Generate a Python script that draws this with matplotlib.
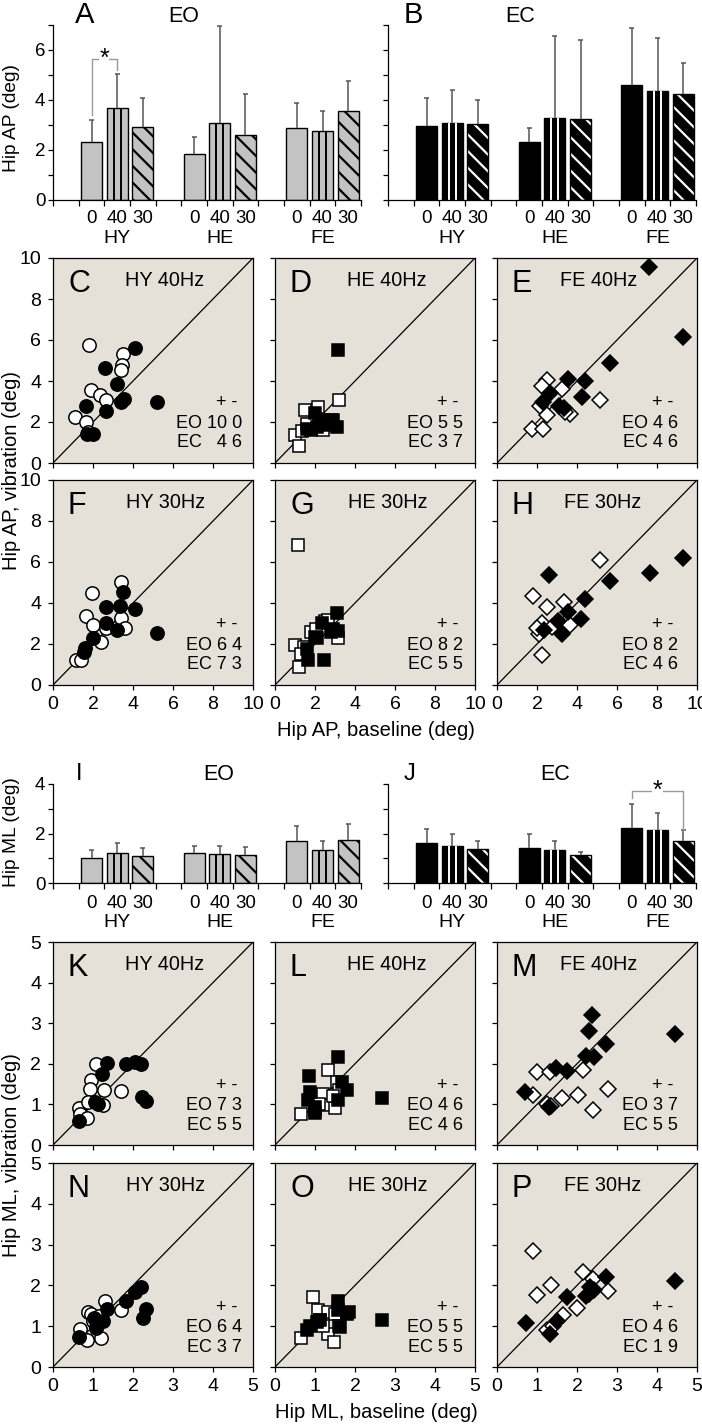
import matplotlib.pyplot as plt

plt.rcParams['font.family'] = ['Liberation Sans', 'DejaVu Sans']
plt.rcParams['font.size'] = 13
plt.rcParams['hatch.linewidth'] = 1.6
plt.rcParams['axes.linewidth'] = 0.9

# bar order: HY 0/40/30, HE 0/40/30, FE 0/40/30
cond_labels = ['0', '40', '30']
group_names = ['HY', 'HE', 'FE']
ap_eo_mean = [2.33, 3.68, 2.92, 1.83, 3.10, 2.60, 2.90, 2.76, 3.55]
ap_eo_sd = [0.87, 1.35, 1.18, 0.68, 3.85, 1.63, 1.00, 0.81, 1.23]
ap_ec_mean = [2.98, 3.10, 3.05, 2.34, 3.30, 3.24, 4.59, 4.35, 4.23]
ap_ec_sd = [1.11, 1.31, 0.95, 0.53, 3.25, 3.18, 2.29, 2.13, 1.27]
ml_eo_mean = [1.03, 1.20, 1.09, 1.20, 1.17, 1.12, 1.71, 1.33, 1.73]
ml_eo_sd = [0.32, 0.40, 0.31, 0.29, 0.32, 0.32, 0.61, 0.38, 0.64]
ml_ec_mean = [1.60, 1.48, 1.36, 1.41, 1.32, 1.13, 2.21, 2.16, 1.68]
ml_ec_sd = [0.60, 0.52, 0.35, 0.59, 0.39, 0.14, 0.99, 0.68, 0.45]

# scatter: (baseline, vibration) pairs
ap_hy40_eo = [(1.8, 5.76), (3.5, 5.33), (3.45, 4.8), (3.42, 4.52), (1.92, 3.58), (2.37, 3.32),
              (2.63, 3.09), (1.12, 2.24), (1.67, 2.0), (1.75, 1.5)]
ap_hy40_ec = [(4.08, 5.61), (2.58, 4.65), (3.2, 3.85), (3.42, 3.0), (5.2, 3.0), (1.63, 2.76),
              (2.67, 2.52), (1.7, 1.41), (2.0, 1.41), (3.55, 3.1)]
ap_he40_eo = [(1.0, 1.35), (1.2, 0.85), (1.5, 2.6), (2.15, 2.75), (3.2, 3.05), (1.35, 1.55),
              (2.4, 1.6), (2.0, 1.9), (1.6, 1.9), (2.8, 2.1)]
ap_he40_ec = [(3.17, 5.53), (2.0, 2.45), (1.6, 1.65), (2.25, 2.1), (2.9, 2.1), (3.1, 1.75),
              (2.75, 1.85), (1.8, 1.6), (2.5, 1.9), (2.1, 1.75)]
ap_fe40_eo = [(2.5, 4.07), (2.25, 3.74), (3.25, 3.61), (5.17, 3.06), (2.13, 2.8), (2.5, 2.36),
              (3.67, 2.41), (1.75, 1.67), (2.28, 1.67), (3.4, 2.5)]
ap_fe40_ec = [(7.62, 9.56), (9.28, 6.15), (5.67, 4.88), (3.55, 4.1), (4.42, 3.98), (4.25, 3.2),
              (2.63, 3.41), (2.3, 2.98), (3.08, 2.76), (3.33, 2.68)]
ap_hy30_eo = [(3.42, 5.0), (1.97, 4.5), (1.67, 3.35), (2.0, 2.93), (2.63, 2.8), (1.17, 1.22),
              (2.42, 2.11), (3.42, 3.25), (3.58, 2.8), (1.42, 1.22)]
ap_hy30_ec = [(3.5, 4.52), (2.63, 3.79), (3.37, 3.85), (2.67, 3.0), (2.0, 2.28), (1.6, 1.8),
              (1.55, 1.6), (4.08, 3.71), (5.2, 2.52), (3.2, 2.68)]
ap_he30_eo = [(1.13, 6.83), (1.0, 1.95), (1.2, 0.89), (3.17, 2.28), (1.45, 1.85), (1.8, 2.6),
              (2.05, 2.75), (2.5, 3.1), (2.65, 3.15), (1.3, 1.5)]
ap_he30_ec = [(3.08, 3.5), (2.33, 3.0), (2.0, 2.36), (1.6, 1.75), (2.1, 2.3), (3.17, 2.64),
              (1.67, 1.22), (2.45, 1.22), (2.8, 2.6), (2.9, 2.75)]
ap_fe30_eo = [(5.17, 6.1), (1.8, 4.36), (2.5, 3.8), (3.33, 4.07), (2.25, 3.01), (2.08, 2.47),
              (2.75, 2.85), (2.0, 2.8), (3.67, 2.93), (2.25, 1.46)]
ap_fe30_ec = [(9.28, 6.18), (7.63, 5.45), (2.62, 5.37), (5.67, 5.09), (4.42, 4.18), (3.55, 3.58),
              (4.22, 3.22), (3.05, 3.12), (2.33, 2.68), (3.25, 2.49)]

ml_hy40_eo = [(1.08, 2.0), (0.96, 1.6), (0.93, 1.38), (1.27, 1.35), (0.64, 0.9), (0.67, 0.77),
              (0.88, 1.06), (1.71, 1.33), (0.85, 0.66), (1.25, 0.98)]
ml_hy40_ec = [(1.35, 2.03), (1.23, 1.75), (1.83, 2.0), (2.04, 2.05), (2.21, 2.0), (2.23, 1.18),
              (2.32, 1.08), (1.04, 1.05), (1.13, 1.0), (0.64, 0.6)]
ml_he40_eo = [(1.33, 1.84), (0.65, 0.76), (1.21, 1.25), (1.54, 1.55), (1.33, 0.98), (1.5, 0.9),
              (1.0, 0.85), (1.1, 1.0), (1.6, 1.35), (1.45, 1.2)]
ml_he40_ec = [(1.57, 2.17), (0.86, 1.7), (0.88, 1.31), (0.83, 1.1), (1.0, 0.94), (1.0, 0.78),
              (1.67, 1.56), (1.79, 1.35), (1.58, 1.1), (2.68, 1.15)]
ml_fe40_eo = [(1.0, 1.8), (1.33, 1.8), (0.9, 1.23), (2.14, 1.84), (1.25, 1.02), (1.62, 1.15),
              (2.02, 1.23), (2.78, 1.38), (2.39, 0.86), (1.35, 0.95)]
ml_fe40_ec = [(2.38, 3.2), (2.31, 2.8), (2.73, 2.48), (2.23, 2.2), (2.42, 2.17), (1.48, 1.89),
              (1.75, 1.82), (4.46, 2.73), (0.71, 1.31), (1.31, 0.93)]
ml_hy30_eo = [(1.29, 1.62), (0.88, 1.35), (0.96, 1.31), (0.67, 0.94), (1.0, 1.12), (1.15, 1.25),
              (1.71, 1.39), (0.85, 0.66), (1.21, 0.72), (1.08, 0.95)]
ml_hy30_ec = [(2.21, 1.97), (2.04, 1.84), (1.83, 1.62), (1.35, 1.43), (2.33, 1.41), (2.25, 1.19),
              (1.02, 1.19), (1.25, 1.13), (1.08, 0.98), (0.64, 0.74)]
ml_he30_eo = [(0.96, 1.72), (1.08, 1.39), (0.65, 0.72), (1.32, 1.35), (1.12, 1.15), (1.33, 0.82),
              (1.48, 0.61), (1.5, 1.3), (1.6, 1.0), (1.2, 1.0)]
ml_he30_ec = [(0.88, 1.0), (0.79, 0.9), (1.05, 1.1), (1.12, 1.15), (1.58, 1.62), (1.58, 1.39),
              (1.79, 1.31), (1.62, 0.98), (2.68, 1.15), (1.85, 1.35)]
ml_fe30_eo = [(0.9, 2.85), (2.14, 2.32), (1.36, 2.01), (1.0, 1.76), (2.39, 2.15), (2.78, 1.87),
              (2.0, 1.45), (1.65, 1.27), (1.25, 0.9), (1.4, 1.0)]
ml_fe30_ec = [(4.46, 2.11), (2.73, 2.2), (2.32, 1.97), (2.23, 1.74), (2.42, 1.89), (1.75, 1.72),
              (1.5, 1.13), (1.33, 0.82), (0.73, 1.08), (2.3, 1.8)]

# sign counts (+ -) printed in each panel
stats_ap = [('10 0', '  4 6'), ('5 5', '3 7'), ('4 6', '4 6'),
            ('6 4', '7 3'), ('8 2', '5 5'), ('8 2', '4 6')]
stats_ml = [('7 3', '5 5'), ('4 6', '4 6'), ('3 7', '5 5'),
            ('6 4', '3 7'), ('5 5', '5 5'), ('4 6', '1 9')]

W, H = 702, 1425
fig = plt.figure(figsize=(W / 100, H / 100), dpi=100)


def box(l, t, r, b):
    return [l / W, 1 - b / H, (r - l) / W, (b - t) / H]


def ftext(x, y, s, **kw):
    fig.text(x / W, 1 - y / H, s, ha='center', va='center', **kw)


def bar_panel(rect, means, sds, dark, ymax, labelled, pad, gpad):
    ax = fig.add_axes(rect)
    face = 'black' if dark else '#c3c3c3'
    ink = 'white' if dark else 'black'
    xs = [4 * g + 1.5 + k for g in range(3) for k in range(3)]
    wd = 0.82
    for i, (x, m, s) in enumerate(zip(xs, means, sds)):
        if i % 3 == 2:
            ax.bar(x, m, wd, color=face, edgecolor=ink, hatch='\\\\', lw=0)
        else:
            ax.bar(x, m, wd, color=face, lw=0)
        if i % 3 == 1:
            ax.vlines([x - wd / 6, x + wd / 6], 0, m, color=ink, lw=1.4)
        ax.bar(x, m, wd, fill=False, edgecolor='black', lw=1)
        ax.vlines(x, m, m + s, color='#555555', lw=1.1, clip_on=False)
        ax.hlines(m + s, x - 0.1, x + 0.1, color='#555555', lw=1.1, clip_on=False)
    ax.set_xlim(0, 12)
    ax.set_ylim(0, ymax)
    ax.spines[['top', 'right']].set_visible(False)
    ax.set_xticks(range(13))
    ax.set_xticklabels([])
    ax.set_xticks(xs, cond_labels * 3, minor=True)
    ax.tick_params(axis='x', which='major', direction='out', length=4.5, width=0.9)
    ax.tick_params(axis='x', which='minor', length=0, pad=pad, labelsize=13.5)
    ax.set_yticks(range(ymax + 1))
    if labelled:
        ax.set_yticklabels([str(v) if v % 2 == 0 else '' for v in range(ymax + 1)])
    else:
        ax.set_yticklabels([])
    ax.tick_params(axis='y', direction='out', length=3.5, width=0.9, pad=2, labelsize=13.5)
    for g, name in enumerate(group_names):
        ax.annotate(name, xy=(4 * g + 2.5, 0), xycoords=('data', 'axes fraction'),
                    xytext=(0, -gpad), textcoords='offset points', ha='center', va='center',
                    fontsize=14)
    return ax


def bracket(ax, x0, x1, top, bot0, bot1):
    ax.plot([x0, x0, x1, x1], [bot0, top, top, bot1], color='#999999', lw=1, clip_on=False)
    ax.text((x0 + x1) / 2, top, '*', fontsize=18, ha='center', va='center',
            bbox=dict(fc='white', ec='none', pad=0.2))


def scatter_panel(rect, eo, ec, marker, ms, lim, step, letter, title, stats,
                  bottom, left, tx, sx):
    ax = fig.add_axes(rect, facecolor='#e5e1d9')
    ax.plot([0, lim], [0, lim], color='black', lw=0.9)
    for pts, fc in ((eo, 'white'), (ec, 'black')):
        x, y = zip(*pts)
        ax.plot(x, y, ls='none', marker=marker, ms=ms, mfc=fc, mec='black', mew=1.1,
                clip_on=False)
    ax.set_xlim(0, lim)
    ax.set_ylim(0, lim)
    ticks = list(range(0, lim + 1, step))
    ax.set_xticks(ticks)
    ax.set_yticks(ticks)
    if not bottom:
        ax.set_xticklabels([])
    if not left:
        ax.set_yticklabels([])
    ax.tick_params(axis='x', direction='out', length=3.5, width=0.9, pad=4.5, labelsize=14)
    ax.tick_params(axis='y', direction='out', length=3.5, width=0.9, pad=5, labelsize=14)
    ax.text(0.075, 0.873, letter, transform=ax.transAxes, fontsize=22, ha='left', va='center')
    ax.text(tx, 0.89, title, transform=ax.transAxes, fontsize=14.3, ha='center', va='center')
    ax.text(sx - 0.025, 0.293, '+ -', transform=ax.transAxes, ha='right', va='center')
    ax.text(sx, 0.195, 'EO ' + stats[0], transform=ax.transAxes, ha='right', va='center')
    ax.text(sx, 0.098, 'EC ' + stats[1], transform=ax.transAxes, ha='right', va='center')
    return ax


# --- top bars (A, B)
axA = bar_panel(box(53, 25, 361, 200), ap_eo_mean, ap_eo_sd, False, 7, True, 7.5, 28)
bracket(axA, 1.5, 2.5, 5.63, 3.42, 5.2)
axB = bar_panel(box(388, 25, 696, 200), ap_ec_mean, ap_ec_sd, True, 7, False, 7.5, 28)
ftext(85, 15, 'A', fontsize=21)
ftext(184, 17, 'EO', fontsize=15.5)
ftext(413, 15, 'B', fontsize=21)
ftext(520, 17, 'EC', fontsize=15.5)
ftext(12, 118, 'Hip AP (deg)', rotation=90, fontsize=13.8)

# --- AP scatter (C-H)
cols = [(53, 253), (275, 475), (497, 697)]
ap_sets = [(ap_hy40_eo, ap_hy40_ec, 'o', 9.6, 'C', 'HY 40Hz'),
           (ap_he40_eo, ap_he40_ec, 's', 8.3, 'D', 'HE 40Hz'),
           (ap_fe40_eo, ap_fe40_ec, 'D', 7.9, 'E', 'FE 40Hz'),
           (ap_hy30_eo, ap_hy30_ec, 'o', 9.6, 'F', 'HY 30Hz'),
           (ap_he30_eo, ap_he30_ec, 's', 8.3, 'G', 'HE 30Hz'),
           (ap_fe30_eo, ap_fe30_ec, 'D', 7.9, 'H', 'FE 30Hz')]
ap_rows = [(258, 463), (480, 685)]
title_x = [0.56, 0.56, 0.51, 0.565, 0.565, 0.53]
stat_x = [0.945, 0.94, 0.905, 0.945, 0.94, 0.905]
for i, (eo, ec, mk, ms, let, ttl) in enumerate(ap_sets):
    r, c = divmod(i, 3)
    scatter_panel(box(cols[c][0], ap_rows[r][0], cols[c][1], ap_rows[r][1]), eo, ec, mk, ms,
                  10, 2, let, ttl, stats_ap[i], r == 1, c == 0, title_x[i], stat_x[i])
ftext(12, 471, 'Hip AP, vibration (deg)', rotation=90, fontsize=14.5)
ftext(376, 730, 'Hip AP, baseline (deg)', fontsize=14.5)

# --- ML bars (I, J)
axI = bar_panel(box(53, 784, 361, 883), ml_eo_mean, ml_eo_sd, False, 4, True, 9, 28.5)
axJ = bar_panel(box(388, 784, 696, 883), ml_ec_mean, ml_ec_sd, True, 4, False, 9, 28.5)
bracket(axJ, 9.5, 11.5, 3.72, 3.43, 2.14)
ftext(79, 774, 'I', fontsize=17)
ftext(219, 775, 'EO', fontsize=15.5)
ftext(410, 774, 'J', fontsize=17)
ftext(555, 775, 'EC', fontsize=15.5)
ftext(12, 832, 'Hip ML (deg)', rotation=90, fontsize=13.8)

# --- ML scatter (K-P)
ml_sets = [(ml_hy40_eo, ml_hy40_ec, 'o', 9.6, 'K', 'HY 40Hz'),
           (ml_he40_eo, ml_he40_ec, 's', 8.3, 'L', 'HE 40Hz'),
           (ml_fe40_eo, ml_fe40_ec, 'D', 7.9, 'M', 'FE 40Hz'),
           (ml_hy30_eo, ml_hy30_ec, 'o', 9.6, 'N', 'HY 30Hz'),
           (ml_he30_eo, ml_he30_ec, 's', 8.3, 'O', 'HE 30Hz'),
           (ml_fe30_eo, ml_fe30_ec, 'D', 7.9, 'P', 'FE 30Hz')]
ml_rows = [(942, 1145), (1163, 1367)]
for i, (eo, ec, mk, ms, let, ttl) in enumerate(ml_sets):
    r, c = divmod(i, 3)
    scatter_panel(box(cols[c][0], ml_rows[r][0], cols[c][1], ml_rows[r][1]), eo, ec, mk, ms,
                  5, 1, let, ttl, stats_ml[i], r == 1, c == 0, title_x[i], stat_x[i])
ftext(12, 1155, 'Hip ML, vibration (deg)', rotation=90, fontsize=14.5)
ftext(376, 1413, 'Hip ML, baseline (deg)', fontsize=14.5)

fig.savefig('out.png', dpi=100)
